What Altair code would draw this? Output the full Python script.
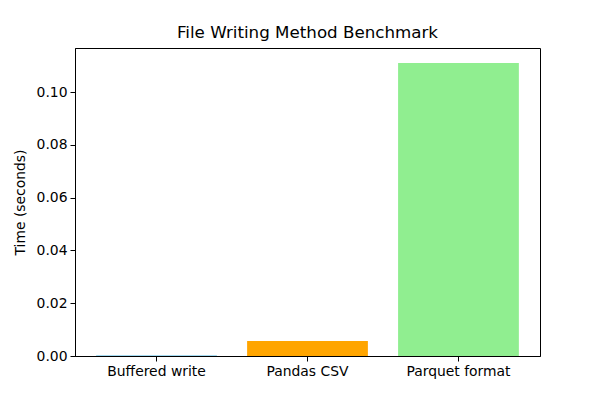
import altair as alt
import pandas as pd

methods = ["Buffered write", "Pandas CSV", "Parquet format"]
times = [0.0003, 0.0057, 0.1110]
colors = ["#87CEEB", "#FFA500", "#90EE90"]

df = pd.DataFrame({"method": methods, "time": times, "color": colors})

font = "DejaVu Sans"
fs = 13.9

chart = alt.Chart(df).mark_bar().encode(
    x=alt.X("method:N", sort=methods, title=None,
            scale=alt.Scale(paddingInner=0.2, paddingOuter=0.14),
            axis=alt.Axis(labelAngle=0, labelFontSize=fs, labelFont=font, labelColor="black",
                          tickColor="black", domainColor="black", tickSize=5, labelPadding=3)),
    y=alt.Y("time:Q", title="Time (seconds)",
            scale=alt.Scale(domain=[0, 0.11667], nice=False),
            axis=alt.Axis(values=[0, 0.02, 0.04, 0.06, 0.08, 0.10], format=".2f", grid=False,
                          labelFontSize=fs, labelFont=font, labelColor="black",
                          titleFontSize=fs, titleFont=font, titleFontWeight="normal", titleColor="black",
                          tickColor="black", domainColor="black", tickSize=5, labelPadding=3, titlePadding=9)),
    color=alt.Color("color:N", scale=None),
).properties(
    width=465, height=308,
    title=alt.Title("File Writing Method Benchmark", fontSize=16.7, font=font, fontWeight="normal",
                    color="black", anchor="middle", offset=6),
    autosize=alt.AutoSizeParams(type="none"),
    padding={"left": 67, "top": 40, "right": 52, "bottom": 36},
).configure_view(stroke="black", strokeWidth=1)

chart.save("out.html", embed_options={"renderer": "svg", "actions": False})
